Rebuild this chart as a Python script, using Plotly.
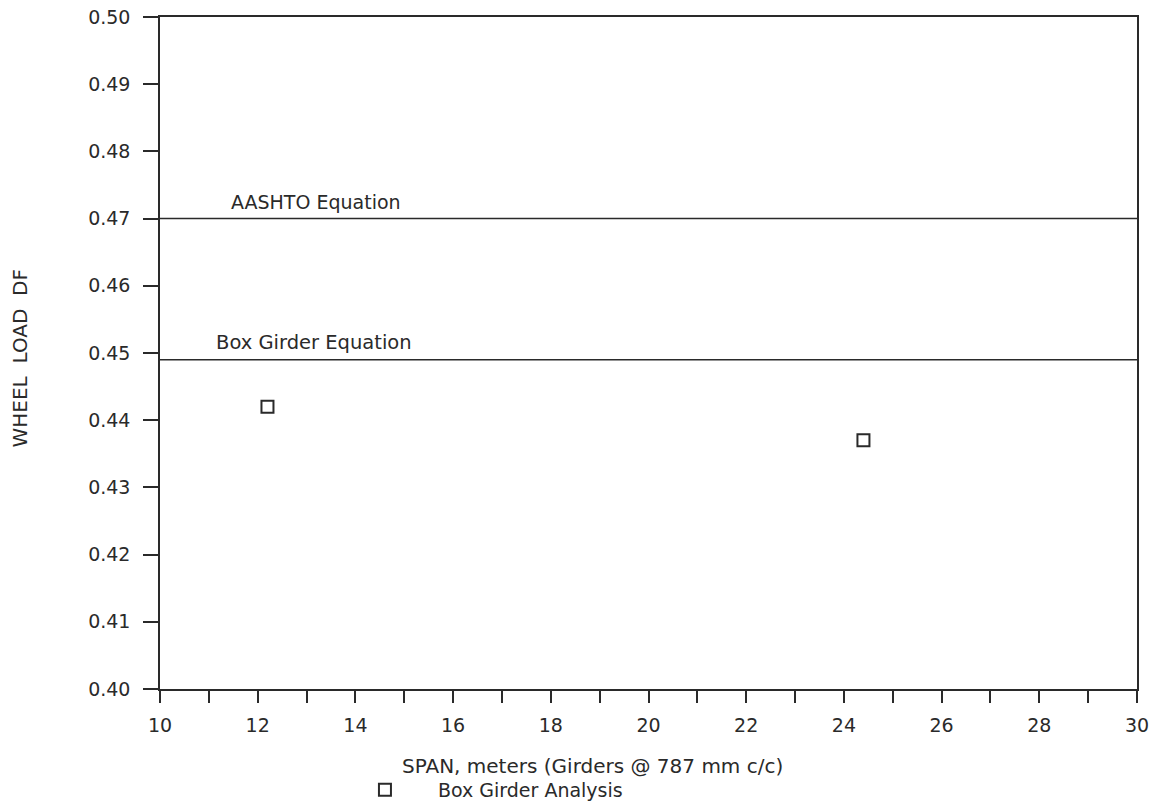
import plotly.graph_objects as go

# Data
span_m = [12.2, 24.4]
box_girder_df = [0.442, 0.437]
aashto_df = 0.470
box_eq_df = 0.449
x_range = [10, 30]
y_range = [0.40, 0.50]
x_ticks = [10, 12, 14, 16, 18, 20, 22, 24, 26, 28, 30]
y_ticks = [0.40, 0.41, 0.42, 0.43, 0.44, 0.45, 0.46, 0.47, 0.48, 0.49, 0.50]

FONT = "DejaVu Sans"
INK = "#2a2a2a"

fig = go.Figure()
fig.add_trace(go.Scatter(x=x_range, y=[aashto_df, aashto_df], mode="lines",
                         line=dict(color=INK, width=1.5), showlegend=False, hoverinfo="skip"))
fig.add_trace(go.Scatter(x=x_range, y=[box_eq_df, box_eq_df], mode="lines",
                         line=dict(color=INK, width=1.5), showlegend=False, hoverinfo="skip"))
fig.add_trace(go.Scatter(x=span_m, y=box_girder_df, mode="markers",
                         name="Box Girder Analysis",
                         marker=dict(symbol="square-open", size=12, color=INK,
                                     line=dict(width=2, color=INK))))

fig.add_annotation(x=11.42, y=aashto_df, xref="x", yref="y", text="AASHTO Equation",
                   showarrow=False, xanchor="left", yanchor="bottom", yshift=4,
                   font=dict(family=FONT, size=19, color=INK))
fig.add_annotation(x=11.1, y=box_eq_df, xref="x", yref="y", text="Box Girder Equation",
                   showarrow=False, xanchor="left", yanchor="bottom", yshift=4,
                   font=dict(family=FONT, size=19.5, color=INK))
fig.add_annotation(x=-0.1438, y=0.3557, xref="paper", yref="paper", text="WHEEL  LOAD  DF",
                   showarrow=False, textangle=-90, xanchor="center", yanchor="bottom",
                   font=dict(family=FONT, size=20, color=INK))
fig.add_annotation(x=0.2456, y=-0.1146, xref="paper", yref="paper",
                   text="SPAN, meters (Girders @ 787 mm c/c)",
                   showarrow=False, xanchor="left", yanchor="middle",
                   font=dict(family=FONT, size=20, color=INK))

fig.update_xaxes(range=x_range, tickvals=x_ticks, ticktext=[str(v) for v in x_ticks],
                 minor=dict(dtick=1, ticks="outside", ticklen=12, tickcolor=INK, tickwidth=1.5),
                 ticks="outside", ticklen=12, tickwidth=1.5, tickcolor=INK,
                 ticklabelstandoff=6, ticklabeloverflow="allow",
                 showline=True, linecolor=INK, linewidth=1.5, mirror=True,
                 showgrid=False, zeroline=False, automargin=False,
                 tickfont=dict(family=FONT, size=19, color=INK))
fig.update_yaxes(range=y_range, tickvals=y_ticks, ticktext=[f"{v:.2f}" for v in y_ticks],
                 ticks="outside", ticklen=15, tickwidth=1.5, tickcolor=INK,
                 ticklabelstandoff=9, ticklabeloverflow="allow",
                 showline=True, linecolor=INK, linewidth=1.5, mirror=True,
                 showgrid=False, zeroline=False, automargin=False,
                 tickfont=dict(family=FONT, size=19, color=INK))

fig.update_layout(
    width=1161, height=810,
    margin=dict(l=160, r=24, t=17, b=121, autoexpand=False),
    plot_bgcolor="white", paper_bgcolor="white",
    showlegend=True,
    legend=dict(x=0.176, y=-0.122, xref="paper", yref="paper", xanchor="left", yanchor="top",
                orientation="h", bgcolor="rgba(0,0,0,0)",
                font=dict(family=FONT, size=19, color=INK), itemwidth=96),
)

fig.write_html("out.html", config={"displayModeBar": False},
               post_script="document.body.style.margin='0';document.body.style.overflow='hidden';")
